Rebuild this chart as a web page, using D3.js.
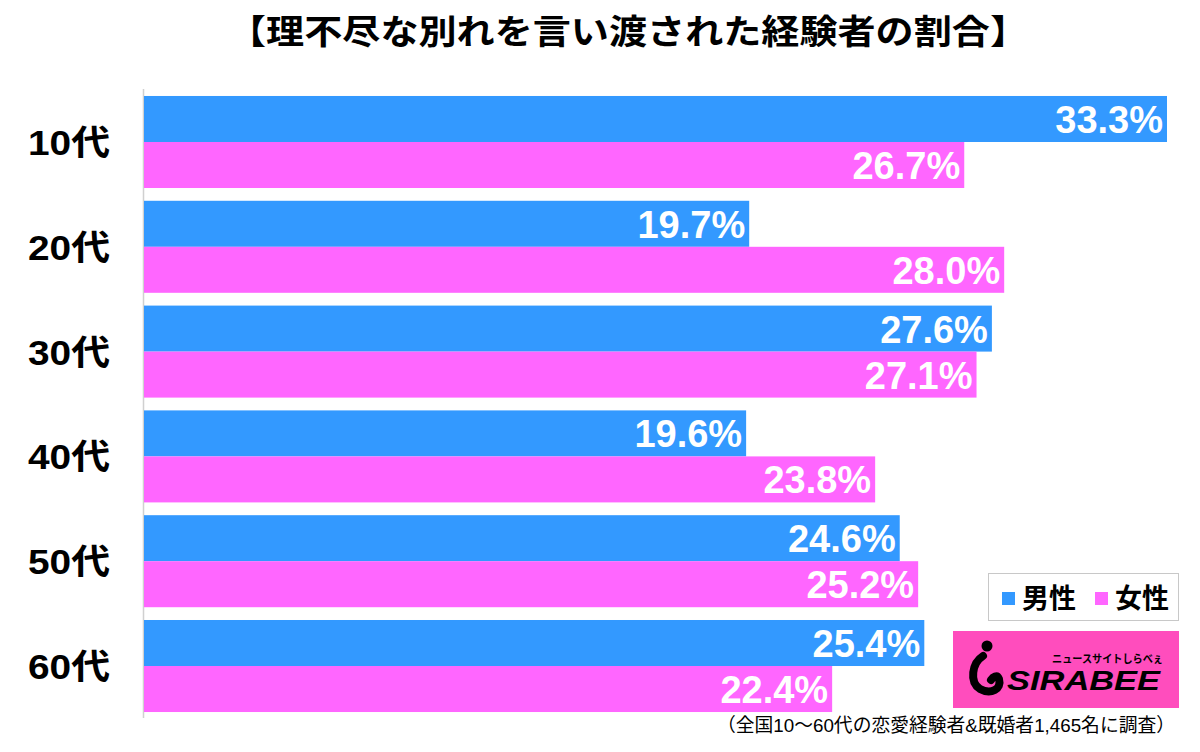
<!DOCTYPE html>
<html><head><meta charset="utf-8">
<script src="https://cdn.jsdelivr.net/npm/d3@7"></script>
<style>body{margin:0;background:#fff}svg{display:block}</style>
</head><body>
<script>
const categories = ["10代","20代","30代","40代","50代","60代"];
const male = [33.3,19.7,27.6,19.6,24.6,25.4];
const female = [26.7,28.0,27.1,23.8,25.2,22.4];
const seriesNames = ["男性","女性"];
const title = "【理不尽な別れを言い渡された経験者の割合】";
const note = "（全国10～60代の恋愛経験者&既婚者1,465名に調査）";

const W=1200,H=752;
const colors=["#3399ff","#ff66ff"];
const FONT='"Liberation Sans","Noto Sans CJK JP",sans-serif';
const svg=d3.select("body").append("svg").attr("width",W).attr("height",H);

const x=d3.scaleLinear().domain([0,33.3]).range([144,1167]);
const y=d3.scaleBand().domain(categories).range([83.2,724.8]).paddingInner(0.122).paddingOuter(0.122);
const sub=d3.scaleBand().domain([0,1]).range([0,y.bandwidth()]);

svg.append("text").attr("x",628).attr("y",44).attr("text-anchor","middle")
  .attr("font-family",FONT).attr("font-weight","bold").attr("font-size",34)
  .attr("textLength",800).attr("lengthAdjust","spacingAndGlyphs").attr("fill","#000").text(title);

svg.append("line").attr("x1",143.5).attr("x2",143.5).attr("y1",89).attr("y2",718).attr("stroke","#d0d0d0").attr("stroke-width",1.5);

const g=svg.append("g");
categories.forEach((c,i)=>{
  [male[i],female[i]].forEach((v,j)=>{
    const y0=y(c)+sub(j);
    g.append("rect").attr("x",x(0)).attr("y",y0).attr("width",x(v)-x(0)).attr("height",sub.bandwidth()).attr("fill",colors[j]);
    g.append("text").attr("x",x(v)-4).attr("y",y0+sub.bandwidth()/2+14).attr("text-anchor","end")
      .attr("font-family",FONT).attr("font-weight","bold").attr("font-size",38).attr("fill","#fff").text(v.toFixed(1)+"%");
  });
  g.append("text").attr("x",69).attr("y",y(c)+y.bandwidth()/2+13).attr("text-anchor","middle")
    .attr("font-family",FONT).attr("font-weight","bold").attr("font-size",35)
    .attr("textLength",82).attr("lengthAdjust","spacingAndGlyphs").attr("fill","#000").text(c);
});

// legend
const lg=svg.append("g");
lg.append("rect").attr("x",988.5).attr("y",573.5).attr("width",190).attr("height",47).attr("fill","#fff").attr("stroke","#c8c8c8");
seriesNames.forEach((s,i)=>{
  const lx=i===0?1002:1095;
  lg.append("rect").attr("x",lx).attr("y",592).attr("width",13).attr("height",13).attr("fill",colors[i]);
  lg.append("text").attr("x",lx+20).attr("y",608).attr("font-family",FONT).attr("font-weight","bold").attr("font-size",27).attr("fill","#000").text(s);
});

// logo
const lo=svg.append("g");
lo.append("rect").attr("x",953).attr("y",631).attr("width",226).attr("height",77).attr("fill","#ff4dbd");
lo.append("circle").attr("cx",987).attr("cy",646).attr("r",5.5).attr("fill","#000");
lo.append("path").attr("d","M983,656 C972,663 969,682 980,689 C991,695 1002,689 999,679 C997,674 993,677 991,680")
  .attr("fill","none").attr("stroke","#000").attr("stroke-width",8).attr("stroke-linecap","round");
lo.append("text").attr("x",1007).attr("y",690).attr("font-family",'"Liberation Sans",sans-serif').attr("font-weight","bold").attr("font-style","italic")
  .attr("font-size",28).attr("textLength",153).attr("lengthAdjust","spacingAndGlyphs").attr("fill","#000").text("SIRABEE");
lo.append("text").attr("x",1052).attr("y",663).attr("font-family",FONT).attr("font-weight","bold").attr("font-size",11)
  .attr("textLength",111).attr("lengthAdjust","spacingAndGlyphs").attr("fill","#000").text("ニュースサイトしらべぇ");

svg.append("text").attr("x",1175).attr("y",732).attr("text-anchor","end").attr("font-family",FONT).attr("font-size",19)
  .attr("textLength",458).attr("lengthAdjust","spacingAndGlyphs").attr("fill","#000").text(note);
</script>
</body></html>
